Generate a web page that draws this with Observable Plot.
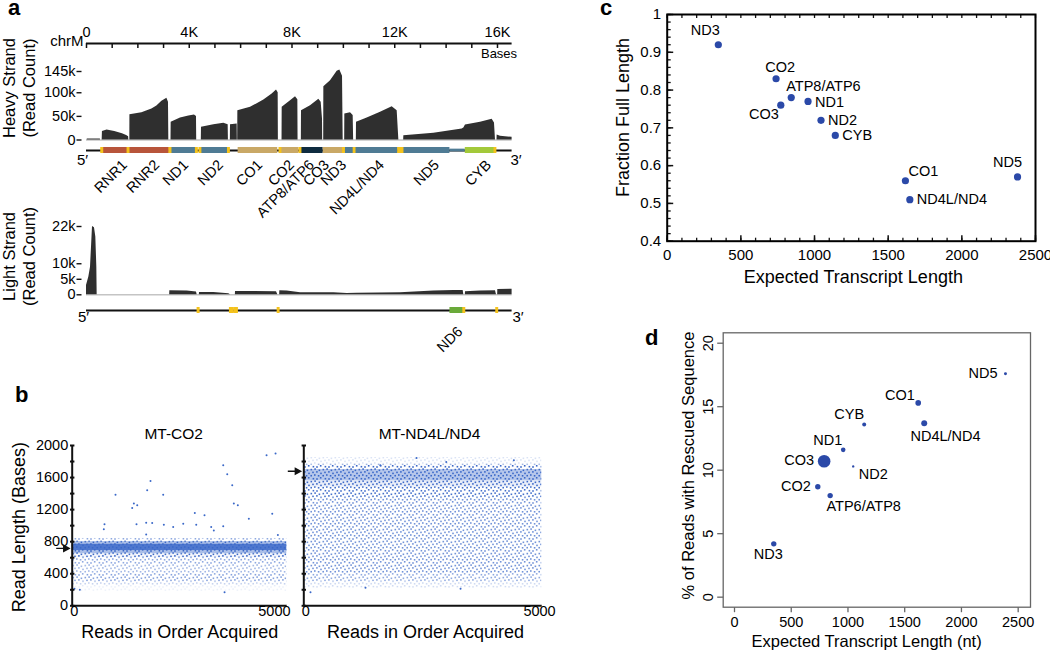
<!DOCTYPE html>
<html><head><meta charset="utf-8">
<script src="https://cdn.jsdelivr.net/npm/d3@7"></script>
<script src="https://cdn.jsdelivr.net/npm/@observablehq/plot@0.6"></script>
<style>
html,body{margin:0;padding:0;background:#fff;}
#fig{position:relative;width:1050px;height:651px;overflow:hidden;font-family:"Liberation Sans",Arial,sans-serif;}
.lbl{position:absolute;font-weight:bold;font-size:22px;line-height:14px;color:#000;}
</style></head><body><div id="fig">
<svg width="0" height="0" style="position:absolute;left:0;top:0">
 <defs>
  <pattern id="speckle" width="12" height="12" patternUnits="userSpaceOnUse">
   <g fill="#3a68c8">
    <rect x="0.5" y="0.8" width="1.6" height="1.6"/><rect x="4.3" y="0.3" width="1.6" height="1.6"/>
    <rect x="8.6" y="1.5" width="1.6" height="1.6"/><rect x="2.2" y="3.6" width="1.6" height="1.6"/>
    <rect x="6.1" y="3.1" width="1.6" height="1.6"/><rect x="10.2" y="4.6" width="1.6" height="1.6"/>
    <rect x="0.4" y="6.9" width="1.6" height="1.6"/><rect x="4.0" y="6.2" width="1.6" height="1.6"/>
    <rect x="7.8" y="7.0" width="1.6" height="1.6"/><rect x="2.6" y="9.9" width="1.6" height="1.6"/>
    <rect x="6.2" y="10.2" width="1.6" height="1.6"/><rect x="9.9" y="9.0" width="1.6" height="1.6"/>
   </g>
  </pattern>
 </defs>
</svg>
<div class="lbl" style="left:8px;top:1px">a</div>
<div class="lbl" style="left:15px;top:388px">b</div>
<div class="lbl" style="left:600px;top:1px">c</div>
<div class="lbl" style="left:645px;top:331px">d</div>
</div>
<script>
// ---------------- DATA ----------------
// Panel a: chrM axis
const chrLength = 16569;
const chrMajorPos = [0, 4000, 8000, 12000, 16000];
const chrMajorLabel = ["0", "4K", "8K", "12K", "16K"];
const chrTicks = [0,1000,2000,3000,4000,5000,6000,7000,8000,9000,10000,11000,12000,13000,14000,15000,16000];

// Heavy strand coverage (position in bases, read count)
const heavyPos = [26,30,540,545,
  610,620,800,1100,1400,1560,1640,1648,
  1687,1690,2157,2546,2740,2935,3130,3192,3205,
  3290,3296,3659,3984,4204,4282,4290,
  4470,4477,4957,5346,5515,5525,
  5600,5606,5866,5872,
  5886,5892,6385,6904,7228,7397,7462,7470,
  7612,7618,7943,8137,8228,8236,
  8364,8370,8721,9045,9136,9188,9195,
  9234,9240,9500,9759,9863,9967,9993,
  10051,10057,10278,10382,10400,
  10505,10511,10927,11446,11900,12095,12160,
  12348,12354,13522,14625,14690,14754,15338,15792,15883,15922,
  15981,15987,16117,16569];
const heavyCount = [0,2000,2000,0,
  0,18000,21000,18000,13000,9500,7000,0,
  0,53600,57900,65600,72000,82000,88200,80000,0,
  0,37400,46600,50800,52900,50000,0,
  0,26800,32500,35300,32500,0,
  0,32500,33900,0,
  0,62100,69100,84700,97400,105800,100000,0,
  0,69100,83300,91700,85000,0,
  0,62100,72700,86100,80000,44500,0,
  0,112900,125600,145300,148200,135000,0,
  0,55000,57900,52000,0,
  0,37400,46600,58600,70600,62000,0,
  0,9200,14100,23300,25400,31800,37400,43700,36000,0,
  0,10600,7800,5600];
const heavyTickPos = [0, 50000, 100000, 145000];
const heavyTickLabel = ["0", "50k", "100k", "145k"];

// Light strand coverage
const lightPos = [0,91,156,195,234,311,363,402,415,
  3238,3244,3918,4282,4308,
  4393,4399,4957,5541,5606,
  5795,5801,6515,7397,7449,
  7520,7526,7812,8332,9629,10148,10537,12224,13522,14300,14664,14690,
  14748,14754,15338,15922,15961,
  16007,16013,16506,16569];
const lightCount = [3000,5700,8900,15400,22000,21600,18600,8900,0,
  0,1300,1200,900,0,
  0,750,750,300,0,
  0,1100,1100,1000,0,
  0,1300,1200,650,650,400,500,650,1200,1400,1400,0,
  0,1000,1200,1300,0,
  0,1700,1800,1800];
const lightTickPos = [0, 5000, 10000, 22000];
const lightTickLabel = ["0", "5k", "10k", "22k"];

// Genes (heavy strand)
const heavyGeneName  = ["RNR1","RNR2","ND1","ND2","CO1","CO2","ATP8/ATP6","CO3","ND3","ND4L/ND4","ND5","CYB"];
const heavyGeneStart = [648,1671,3307,4470,5904,7586,8366,9207,10059,10470,12337,14747];
const heavyGeneEnd   = [1601,3229,4262,5511,7445,8269,9207,9990,10404,12137,14148,15887];
const heavyGeneKind  = ["rRNA","rRNA","ND","ND","CO","CO","ATP","CO","ND","ND","ND","CYB"];
const heavyLabelPos  = [1491,2737,3866,5228,6747,7992,8771,9355,10017,11496,13637,15662];
const heavyUtrStart = [14148], heavyUtrEnd = [14747];
const heavyTrnaStart = [577,1602,3230,4263,4402,5512,7518,8295,9991,10405,12138,12207,12266,15888];
const heavyTrnaEnd   = [647,1670,3304,4331,4469,5579,7585,8364,10058,10469,12206,12265,12336,15953];
// Genes (light strand)
const lightGeneName = ["ND6"], lightGeneStart = [14149], lightGeneEnd = [14673], lightLabelPos = [14544];
const lightTrnaStart = [4329,5587,5657,5761,5826,7446,14674,15956];
const lightTrnaEnd   = [4400,5655,5729,5826,5891,7514,14742,16023];

// Panel b: read length vs read order (density of reads per length band, plus isolated reads)
const readTicks = [0,200,400,600,800,1000,1200,1400,1600,1800,2000];
const readYLabels = [0,400,800,1200,1600,2000];
const readXLabels = [0,5000];
const co2Total = 5360, co2Expected = 716;
const co2BinLo = [800,770,690,650,600,500,400,300,250,180];
const co2BinHi = [840,800,770,690,650,600,500,400,300,250];
const co2BinDensity = [0.12,0.55,0.92,0.55,0.25,0.12,0.1,0.13,0.06,0.02];
const co2OutReads = [1082,790,807,1499,1540,1624,1606,1848,1873,1956,1848,1998,2273,2289,2523,2773,3063,3098,3305,3472,3537,3772,3872,3997,3772,4037,4137,4412,4854,5079,4996,5137,57,190,3805];
const co2OutLen   = [1387,954,1016,1220,1275,1254,1016,891,1441,1558,1037,1033,1387,1012,983,1025,1158,1012,1129,983,941,1754,1641,1504,991,1275,1254,1087,1879,1900,1150,883,212,200,170];
const nd4Total = 5090, nd4Expected = 1679;
const nd4BinLo = [1760,1700,1560,1480,1350,400,300,220];
const nd4BinHi = [1850,1760,1700,1560,1480,1350,400,300];
const nd4BinDensity = [0.04,0.22,0.5,0.3,0.2,0.15,0.12,0.05];
const nd4OutReads = [2412,3047,4494,1637,3353,1320,143];
const nd4OutLen   = [1845,1795,1816,1754,212,225,170];

// Panel c
const cGene = ["ND3","CO2","CO3","ATP8/ATP6","ND1","ND2","CYB","CO1","ND4L/ND4","ND5"];
const cLength = [347,739,771,842,956,1044,1141,1617,1647,2378];
const cFraction = [0.92,0.83,0.76,0.78,0.77,0.72,0.68,0.56,0.51,0.57];
const cXTicks = [0,500,1000,1500,2000,2500];
const cYTicks = [0.4,0.5,0.6,0.7,0.8,0.9,1];
const cYTickLabel = ["0.4","0.5","0.6","0.7","0.8","0.9","1"];

// Panel d
const dGene = ["ND5","CO1","ND4L/ND4","CYB","ND1","CO3","ND2","CO2","ATP6/ATP8","ND3"];
const dLength = [2388,1619,1672,1143,958,790,1046,734,843,346];
const dPercent = [17.6,15.3,13.7,13.6,11.6,10.7,10.3,8.7,8.0,4.2];
const dWeight = [2.2,8,9,4,5.3,40,1.4,7.3,7.3,7.3];
const dXTicks = [0,500,1000,1500,2000,2500];
const dYTicks = [0,5,10,15,20];

// ---------------- LAYOUT / STYLE ----------------
const fig = document.getElementById("fig");
const FONT = '"Liberation Sans", Arial, Helvetica, sans-serif';
const S = fs => ({background: "transparent", overflow: "visible", fontFamily: FONT, fontSize: fs + "px", color: "#000"});
function put(svg, left, top) { svg.style.position = "absolute"; svg.style.left = left + "px"; svg.style.top = top + "px"; fig.appendChild(svg); }
const seg = (ax, ay, bx, by) => ({draw(ctx, size) { const r = Math.sqrt(size / Math.PI); ctx.moveTo(ax * r, ay * r); ctx.lineTo(bx * r, by * r); }});
const arrowSym = {draw(ctx, size) { const r = Math.sqrt(size / Math.PI); ctx.moveTo(-r, 0); ctx.lineTo(-4, 0); ctx.moveTo(0, 0); ctx.lineTo(-5.5, -3); ctx.lineTo(-5.5, 3); ctx.closePath(); }};
const kindColor = {rRNA: "#b8553b", ND: "#4f7b94", CO: "#c9a866", ATP: "#0f2b3f", CYB: "#a3c93a", UTR: "#4f7b94", ND6: "#6aaa3a", tRNA: "#f4c21c"};
const blue = "#3a68c8", dotBlue = "#2b49a8";
const SPECKLE = 0.21; // coverage of the speckle pattern
const mid = {textAnchor: "middle", lineAnchor: "middle"};

const aW = 530, aML = 86, aMR = 18.4;
const aX = {domain: [0, chrLength], axis: null};

// chrM axis
put(Plot.plot({
  width: aW, height: 60, marginLeft: aML, marginRight: aMR, marginTop: 43, marginBottom: 12,
  style: S(14.5), x: aX, y: {domain: [0, 1], range: [43, 48], axis: null},
  marks: [
    Plot.ruleY([0], {stroke: "#111", strokeWidth: 2}),
    Plot.ruleX(chrTicks, {x: d => d, y1: 0, y2: 1, stroke: "#111", strokeWidth: 1.5}),
    Plot.text(chrMajorPos, {x: d => d, y: 0, dy: -11, text: (d, i) => chrMajorLabel[i]}),
    Plot.text(["chrM"], {x: 0, y: 0, dx: -3, dy: -2, textAnchor: "end", text: d => d, fontSize: 15}),
    Plot.text(["Bases"], {x: chrLength, y: 1, dx: 5, dy: 5.5, textAnchor: "end", text: d => d, fontSize: 13})
  ]
}), 0, 0);

// heavy coverage
const heavy = heavyPos.map((p, i) => ({pos: p, count: heavyCount[i]}));
put(Plot.plot({
  width: aW, height: 125, marginLeft: aML, marginRight: aMR, marginTop: 51, marginBottom: 5.5,
  style: S(14.5), x: aX, y: {domain: [0, 145000], axis: null},
  marks: [
    Plot.ruleY([0], {stroke: "#c4c4c4", strokeWidth: 1.5}),
    Plot.areaY(heavy, {x: "pos", y: "count", fill: "#2f2f2f"}),
    Plot.dot(heavyTickPos, {y: d => d, frameAnchor: "left", dx: -5, r: 5, symbol: seg(-1, 0, 0, 0), stroke: "#111", strokeWidth: 1.4, fill: "none"}),
    Plot.text(heavyTickPos, {y: d => d, frameAnchor: "left", dx: -11, textAnchor: "end", text: (d, i) => heavyTickLabel[i]}),
    Plot.text(["Heavy Strand\n(Read Count)"], {frameAnchor: "left", dx: -67.7, dy: -17.7, rotate: -90, lineHeight: 1.21, fontSize: 16.5, text: d => d, ...mid})
  ]
}), 0, 20);

// heavy gene track
const heavyGenes = heavyGeneName.map((n, i) => ({name: n, start: heavyGeneStart[i], end: heavyGeneEnd[i], kind: heavyGeneKind[i], label: heavyLabelPos[i]}));
const heavyUtr = heavyUtrStart.map((s, i) => ({start: s, end: heavyUtrEnd[i]}));
const heavyTrna = heavyTrnaStart.map((s, i) => ({start: s, end: heavyTrnaEnd[i]}));
put(Plot.plot({
  width: aW, height: 40, marginLeft: aML, marginRight: aMR, marginTop: 7, marginBottom: 27,
  style: S(14.5), x: aX, y: {domain: [-1, 1], range: [13, 7], axis: null},
  marks: [
    Plot.ruleY([0], {stroke: "#111", strokeWidth: 1.8}),
    Plot.rect(heavyUtr, {x1: "start", x2: "end", y1: -0.45, y2: 0.45, fill: kindColor.UTR}),
    ...["rRNA", "ND", "CO", "ATP", "CYB"].map(k => Plot.rect(heavyGenes.filter(g => g.kind === k), {x1: "start", x2: "end", y1: -1, y2: 1, fill: kindColor[k]})),
    Plot.rect(heavyTrna, {x1: "start", x2: "end", y1: -1, y2: 1, fill: kindColor.tRNA, insetLeft: -0.6, insetRight: -0.6}),
    Plot.text(heavyGenes, {x: "label", y: -1, dy: 9, rotate: -45, textAnchor: "end", text: "name"}),
    Plot.text(["5′"], {x: 0, y: 0, dx: -4, dy: 10, text: d => d, fontSize: 15}),
    Plot.text(["3′"], {x: chrLength, y: 0, dx: 4, dy: 10, text: d => d, fontSize: 15})
  ]
}), 0, 140);

// light coverage
const light = lightPos.map((p, i) => ({pos: p, count: lightCount[i]}));
put(Plot.plot({
  width: aW, height: 100, marginLeft: aML, marginRight: aMR, marginTop: 26, marginBottom: 5.7,
  style: S(14.5), x: aX, y: {domain: [0, 22000], axis: null},
  marks: [
    Plot.ruleY([0], {stroke: "#c4c4c4", strokeWidth: 1.5}),
    Plot.areaY(light, {x: "pos", y: "count", fill: "#2f2f2f"}),
    Plot.dot(lightTickPos, {y: d => d, frameAnchor: "left", dx: -5, r: 5, symbol: seg(-1, 0, 0, 0), stroke: "#111", strokeWidth: 1.4, fill: "none"}),
    Plot.text(lightTickPos, {y: d => d, frameAnchor: "left", dx: -11, textAnchor: "end", text: (d, i) => lightTickLabel[i]}),
    Plot.text(["Light Strand\n(Read Count)"], {frameAnchor: "left", dx: -67.7, dy: -4.2, rotate: -90, lineHeight: 1.21, fontSize: 16.5, text: d => d, ...mid})
  ]
}), 0, 200);

// light gene track
const lightGenes = lightGeneName.map((n, i) => ({name: n, start: lightGeneStart[i], end: lightGeneEnd[i], label: lightLabelPos[i]}));
const lightTrna = lightTrnaStart.map((s, i) => ({start: s, end: lightTrnaEnd[i]}));
put(Plot.plot({
  width: aW, height: 40, marginLeft: aML, marginRight: aMR, marginTop: 7, marginBottom: 27,
  style: S(14.5), x: aX, y: {domain: [-1, 1], range: [13, 7], axis: null},
  marks: [
    Plot.ruleY([0], {stroke: "#111", strokeWidth: 1.8}),
    Plot.rect(lightGenes, {x1: "start", x2: "end", y1: -1, y2: 1, fill: kindColor.ND6}),
    Plot.rect(lightTrna, {x1: "start", x2: "end", y1: -1, y2: 1, fill: kindColor.tRNA, insetLeft: -0.6, insetRight: -0.6}),
    Plot.text(lightGenes, {x: "label", y: -1, dy: 15.7, rotate: -45, textAnchor: "end", text: "name"}),
    Plot.text(["5′"], {x: 0, y: 0, dx: -3, dy: 7, text: d => d, fontSize: 15}),
    Plot.text(["3′"], {x: chrLength, y: 0, dx: 6, dy: 7, text: d => d, fontSize: 15})
  ]
}), 0, 300);

// Panel b
function densityMarks(binLo, binHi, binDen, total) {
  const marks = [];
  binLo.forEach((lo, i) => {
    const d = binDen[i];
    marks.push(Plot.rect([i], {x1: 0, x2: total, y1: lo, y2: binHi[i], fill: "url(#speckle)", fillOpacity: Math.min(1, d / SPECKLE)}));
    if (d > SPECKLE) marks.push(Plot.rect([i], {x1: 0, x2: total, y1: lo, y2: binHi[i], fill: blue, fillOpacity: (d - SPECKLE) / (1 - SPECKLE)}));
  });
  return marks;
}
function readPlot({mL, mR, xMax, total, binLo, binHi, binDen, outReads, outLen, expected, title, titleDx, xTitleDx, showYLabels, showYTitle}) {
  const out = outReads.map((r, i) => ({reads: r, len: outLen[i]}));
  return Plot.plot({
    width: 300, height: 225, marginLeft: mL, marginRight: mR, marginTop: 25, marginBottom: 39.7,
    style: S(14.5), x: {domain: [0, xMax], axis: null}, y: {domain: [0, 2000], axis: null},
    marks: [
      ...densityMarks(binLo, binHi, binDen, total),
      Plot.dot(out, {x: "reads", y: "len", r: 1, fill: blue}),
      Plot.ruleX([0], {stroke: "#111", strokeWidth: 2}),
      Plot.ruleY([0], {stroke: "#111", strokeWidth: 2}),
      Plot.dot(readTicks, {x: 0, y: d => d, r: 2.2, symbol: seg(-1, 0, 1, 0), stroke: "#111", strokeWidth: 2, fill: "none"}),
      showYLabels ? Plot.text(readYLabels, {y: d => d, frameAnchor: "left", dx: -4, textAnchor: "end", text: d => String(d)}) : null,
      Plot.text(readXLabels, {x: d => d, frameAnchor: "bottom", dx: 2, dy: 5.5, text: d => String(d), ...mid}),
      Plot.dot([expected], {x: 0, y: d => d, dx: -3, r: 13, symbol: arrowSym, stroke: "#111", strokeWidth: 1.3, fill: "#111"}),
      Plot.text([title], {frameAnchor: "top", dx: titleDx, dy: -11, text: d => d, fontSize: 15.5, ...mid}),
      Plot.text(["Reads in Order Acquired"], {frameAnchor: "bottom", dx: xTitleDx, dy: 26.4, text: d => d, fontSize: 18, ...mid}),
      showYTitle ? Plot.text(["Read Length (Bases)"], {frameAnchor: "left", dx: -52.7, dy: 1.5, rotate: -90, text: d => d, fontSize: 18, ...mid}) : null
    ]
  });
}
put(readPlot({mL: 71.7, mR: 13.3, xMax: 5370, total: co2Total, binLo: co2BinLo, binHi: co2BinHi, binDen: co2BinDensity,
  outReads: co2OutReads, outLen: co2OutLen, expected: co2Expected, title: "MT-CO2", titleDx: -6, xTitleDx: 0, showYLabels: true, showYTitle: true}), 0, 420);
put(readPlot({mL: 53.3, mR: 8.3, xMax: 5100, total: nd4Total, binLo: nd4BinLo, binHi: nd4BinHi, binDen: nd4BinDensity,
  outReads: nd4OutReads, outLen: nd4OutLen, expected: nd4Expected, title: "MT-ND4L/ND4", titleDx: 6.5, xTitleDx: 2.5, showYLabels: false, showYTitle: false}), 250, 420);

// Panel c
const cData = cGene.map((g, i) => ({gene: g, len: cLength[i], frac: cFraction[i]}));
const cLabelPlace = {"ND3": [-13, -14, "middle"], "CO2": [4, -11, "middle"], "ATP8/ATP6": [-5, -11, "start"], "ND1": [7, 0.5, "start"],
  "CO3": [-2, 9, "end"], "ND2": [7, 0, "start"], "CYB": [7, 0, "start"], "CO1": [3, -9, "start"], "ND4L/ND4": [7, 0, "start"], "ND5": [-10, -14.5, "middle"]};
const cXMinor = d3.range(0, 2501, 100), cYMinor = d3.range(0.4, 1.0001, 0.02);
put(Plot.plot({
  width: 470, height: 300, marginLeft: 86.7, marginRight: 15, marginTop: 14, marginBottom: 59.3,
  style: S(15), x: {domain: [0, 2500], axis: null}, y: {domain: [0.4, 1], axis: null},
  marks: [
    Plot.dot(cXMinor, {x: d => d, frameAnchor: "bottom", r: 3.5, symbol: seg(0, 0, 0, -1), stroke: "#111", strokeWidth: 1.3, fill: "none"}),
    Plot.dot(cXTicks, {x: d => d, frameAnchor: "bottom", r: 6, symbol: seg(0, 0, 0, -1), stroke: "#111", strokeWidth: 1.5, fill: "none"}),
    Plot.dot(cXMinor, {x: d => d, frameAnchor: "top", r: 3.5, symbol: seg(0, 0, 0, 1), stroke: "#111", strokeWidth: 1.3, fill: "none"}),
    Plot.dot(cYMinor, {y: d => d, frameAnchor: "left", r: 3.5, symbol: seg(0, 0, 1, 0), stroke: "#111", strokeWidth: 1.3, fill: "none"}),
    Plot.dot(cYTicks, {y: d => d, frameAnchor: "left", r: 6, symbol: seg(0, 0, 1, 0), stroke: "#111", strokeWidth: 1.5, fill: "none"}),
    Plot.frame({stroke: "#000", strokeWidth: 2}),
    Plot.text(cYTicks, {y: d => d, frameAnchor: "left", dx: -6, textAnchor: "end", lineAnchor: "middle", text: (d, i) => cYTickLabel[i]}),
    Plot.text(cXTicks, {x: d => d, frameAnchor: "bottom", dy: 14.3, text: d => String(d), ...mid}),
    Plot.dot(cData, {x: "len", y: "frac", r: 3.6, fill: dotBlue}),
    ...cData.map(d => Plot.text([d], {x: "len", y: "frac", text: "gene", dx: cLabelPlace[d.gene][0], dy: cLabelPlace[d.gene][1], textAnchor: cLabelPlace[d.gene][2], fontSize: 14.5})),
    Plot.text(["Fraction Full Length"], {frameAnchor: "left", dx: -43.7, dy: -10.3, rotate: -90, text: d => d, fontSize: 18, ...mid}),
    Plot.text(["Expected Transcript Length"], {frameAnchor: "bottom", dx: 2, dy: 36, text: d => d, fontSize: 18, ...mid})
  ]
}), 580, 0);

// Panel d
const dData = dGene.map((g, i) => ({gene: g, len: dLength[i], pct: dPercent[i], w: dWeight[i]}));
const dLabelPlace = {"ND5": [-8, 0, "end"], "CO1": [-3.4, -8, "end"], "CYB": [-15, -10, "middle"], "ND4L/ND4": [-13.7, 13.5, "start"],
  "ND1": [-1, -10, "end"], "CO3": [-10, -1, "end"], "ND2": [5.6, 8, "start"], "CO2": [-7, 0, "end"], "ATP6/ATP8": [-3.7, 11, "start"], "ND3": [-5.5, 11, "middle"]};
put(Plot.plot({
  width: 470, height: 331, marginLeft: 142.7, marginRight: 20, marginTop: 12.3, marginBottom: 44.3,
  style: S(14.5), x: {domain: [-99.6, 2608.6], axis: null}, y: {domain: [-0.79, 20.82], axis: null},
  r: {type: "sqrt", domain: [0, 40], range: [0, 6.3]},
  marks: [
    Plot.frame({stroke: "#666", strokeWidth: 1.3}),
    Plot.dot(dXTicks, {x: d => d, frameAnchor: "bottom", r: 5, symbol: seg(0, 0, 0, 1), stroke: "#666", strokeWidth: 1.3, fill: "none"}),
    Plot.dot(dYTicks, {y: d => d, frameAnchor: "left", r: 6, symbol: seg(0, 0, -1, 0), stroke: "#666", strokeWidth: 1.3, fill: "none"}),
    Plot.text(dXTicks, {x: d => d, frameAnchor: "bottom", dy: 15, text: d => String(d), ...mid}),
    Plot.text(dYTicks, {y: d => d, frameAnchor: "left", dx: -14.4, rotate: -90, text: d => String(d), ...mid}),
    Plot.dot(dData, {x: "len", y: "pct", r: "w", fill: dotBlue}),
    ...dData.map(d => Plot.text([d], {x: "len", y: "pct", text: "gene", dx: dLabelPlace[d.gene][0], dy: dLabelPlace[d.gene][1], textAnchor: dLabelPlace[d.gene][2], fontSize: 14.5})),
    Plot.text(["% of Reads with Rescued Sequence"], {frameAnchor: "left", dx: -34.4, dy: -4.5, rotate: -90, text: d => d, fontSize: 16.5, ...mid}),
    Plot.text(["Expected Transcript Length (nt)"], {frameAnchor: "bottom", dx: -10.3, dy: 35, text: d => d, fontSize: 16.5, ...mid})
  ]
}), 580, 320);
</script></body></html>
